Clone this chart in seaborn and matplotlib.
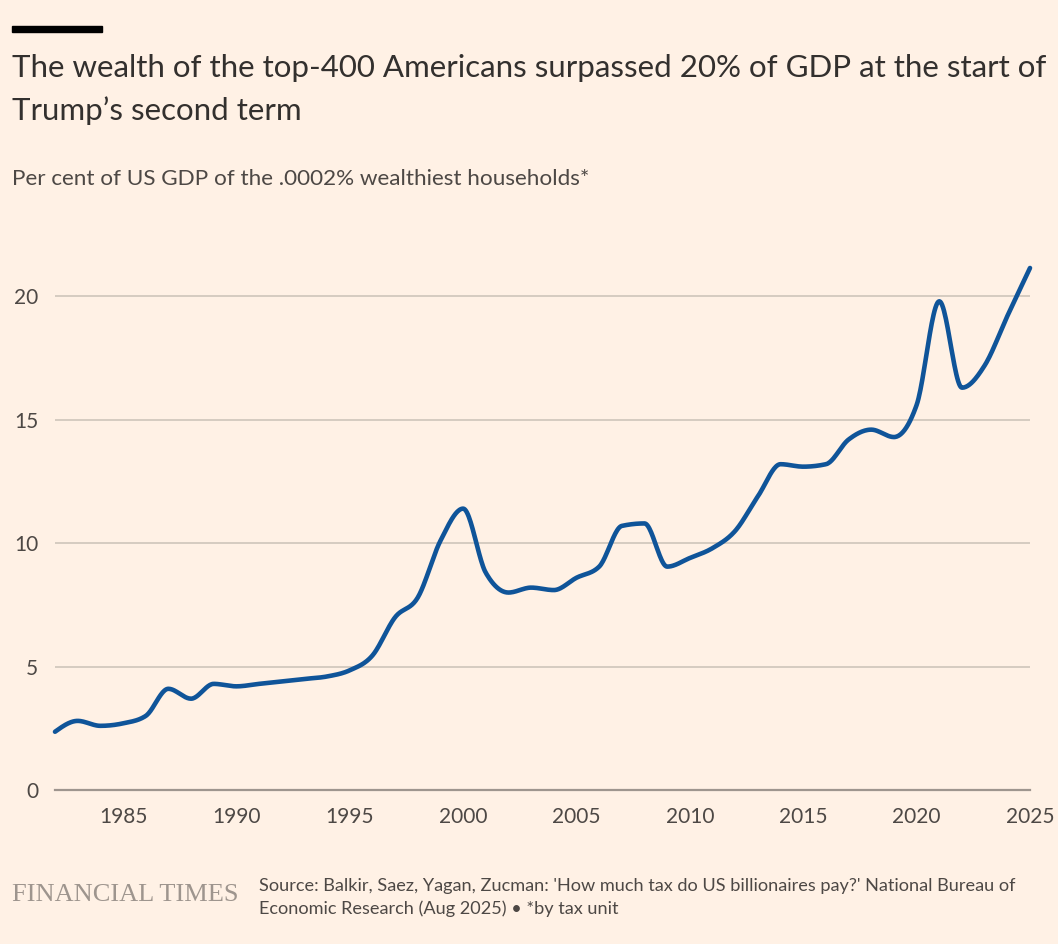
import numpy as np
import pandas as pd
import matplotlib
matplotlib.use("Agg")
import matplotlib.pyplot as plt
import seaborn as sns

# ---- data ----
years = list(range(1982, 2026))
share = [2.36, 2.8, 2.6, 2.7, 3.0, 4.1, 3.7, 4.3, 4.2, 4.3,
         4.4, 4.5, 4.6, 4.85, 5.45, 7.0, 7.8, 10.1, 11.4, 8.8,
         8.0, 8.2, 8.1, 8.6, 9.05, 10.7, 10.8, 9.05, 9.4, 9.8,
         10.5, 11.9, 13.2, 13.1, 13.2, 14.2, 14.6, 14.3, 15.6, 19.8,
         16.3, 17.2, 19.2, 21.15]
x_ticks = [1985, 1990, 1995, 2000, 2005, 2010, 2015, 2020, 2025]
y_ticks = [0, 5, 10, 15, 20]

title = "The wealth of the top-400 Americans surpassed 20% of GDP at the start of\nTrump\u2019s second term"
subtitle = "Per cent of US GDP of the .0002% wealthiest households*"
source1 = "Source: Balkir, Saez, Yagan, Zucman: 'How much tax do US billionaires pay?' National Bureau of"
source2 = "Economic Research (Aug 2025) \u2022 *by tax unit"
brand = "FINANCIAL TIMES"

BG = "#FFF1E5"
LINE = "#0F5499"
TXT = "#33302E"
SUB = "#4D4845"
GRID = "#D5CBC1"
AXIS = "#9E958E"


def monotone_curve(x, y, n=24):
    """Render-only monotone cubic (d3 curveMonotoneX style) between the read points."""
    x = np.asarray(x, float); y = np.asarray(y, float)
    h = np.diff(x); s = np.diff(y) / h
    m = np.zeros_like(y)
    for i in range(1, len(x) - 1):
        p = (s[i - 1] * h[i] + s[i] * h[i - 1]) / (h[i - 1] + h[i])
        m[i] = (np.sign(s[i - 1]) + np.sign(s[i])) * min(abs(s[i - 1]), abs(s[i]), 0.5 * abs(p))
    m[0] = (3 * s[0] - m[1]) / 2
    m[-1] = (3 * s[-1] - m[-2]) / 2
    xs, ys = [], []
    for i in range(len(x) - 1):
        t = np.linspace(0, 1, n, endpoint=False)
        h00 = 2 * t**3 - 3 * t**2 + 1
        h10 = t**3 - 2 * t**2 + t
        h01 = -2 * t**3 + 3 * t**2
        h11 = t**3 - t**2
        xs.append(x[i] + t * h[i])
        ys.append(h00 * y[i] + h10 * h[i] * m[i] + h01 * y[i + 1] + h11 * h[i] * m[i + 1])
    xs.append([x[-1]]); ys.append([y[-1]])
    return np.concatenate(xs), np.concatenate(ys)


sns.set_style("white")
plt.rcParams["font.family"] = ["Lato", "DejaVu Sans"]

W, H = 1058, 944
fig = plt.figure(figsize=(W / 100, H / 100), dpi=100, facecolor=BG)

def fx(px):
    return px / W

def fy(py):
    return 1 - py / H

ax = fig.add_axes([fx(55), fy(790), fx(1030) - fx(55), fy(247) - fy(790)])
ax.set_facecolor(BG)

sx, sy = monotone_curve(years, share)
df = pd.DataFrame({"year": sx, "share": sy})
sns.lineplot(data=df, x="year", y="share", ax=ax, color=LINE, linewidth=3.3,
             sort=False, estimator=None, clip_on=False, solid_capstyle="round")

ax.set_xlim(1982, 2025)
ax.set_ylim(0, 22)
ax.set_xticks(x_ticks)
ax.set_xticklabels([str(v) for v in x_ticks])
ax.set_yticks(y_ticks)
ax.set_yticklabels([str(v) for v in y_ticks])
ax.set_xlabel("")
ax.set_ylabel("")

for side in ["top", "right", "left"]:
    ax.spines[side].set_visible(False)
ax.spines["bottom"].set_color(AXIS)
ax.spines["bottom"].set_linewidth(1.6)
ax.spines["bottom"].set_zorder(1)

ax.yaxis.grid(True, color=GRID, linewidth=1.4)
ax.xaxis.grid(False)
ax.set_axisbelow(True)

ax.tick_params(axis="x", direction="out", length=8.5, width=1.4, color=AXIS,
               pad=4, labelsize=15, labelcolor=SUB)
ax.tick_params(axis="y", length=0, pad=12, labelsize=15, labelcolor=SUB)
for lab in ax.get_yticklabels():
    lab.set_horizontalalignment("right")

# black bar at top
fig.patches.append(matplotlib.patches.Rectangle((fx(12), fy(32)), fx(102) - fx(12), fy(26) - fy(32),
                                                transform=fig.transFigure, color="black"))

fig.text(fx(12), fy(68), title.split("\n")[0], fontsize=22.5, color=TXT, va="center", ha="left")
fig.text(fx(12), fy(111), title.split("\n")[1], fontsize=22.5, color=TXT, va="center", ha="left")
fig.text(fx(12), fy(179), subtitle, fontsize=16.2, color=SUB, va="center", ha="left")

fig.text(fx(12), fy(895), brand, fontsize=19, color="#9E958E", va="center", ha="left",
         family=["Liberation Serif", "DejaVu Serif"])
fig.text(fx(259), fy(886), source1, fontsize=13.1, color=SUB, va="center", ha="left")
fig.text(fx(259), fy(909), source2, fontsize=13.1, color=SUB, va="center", ha="left")

fig.savefig("out.png", dpi=100, facecolor=BG)
